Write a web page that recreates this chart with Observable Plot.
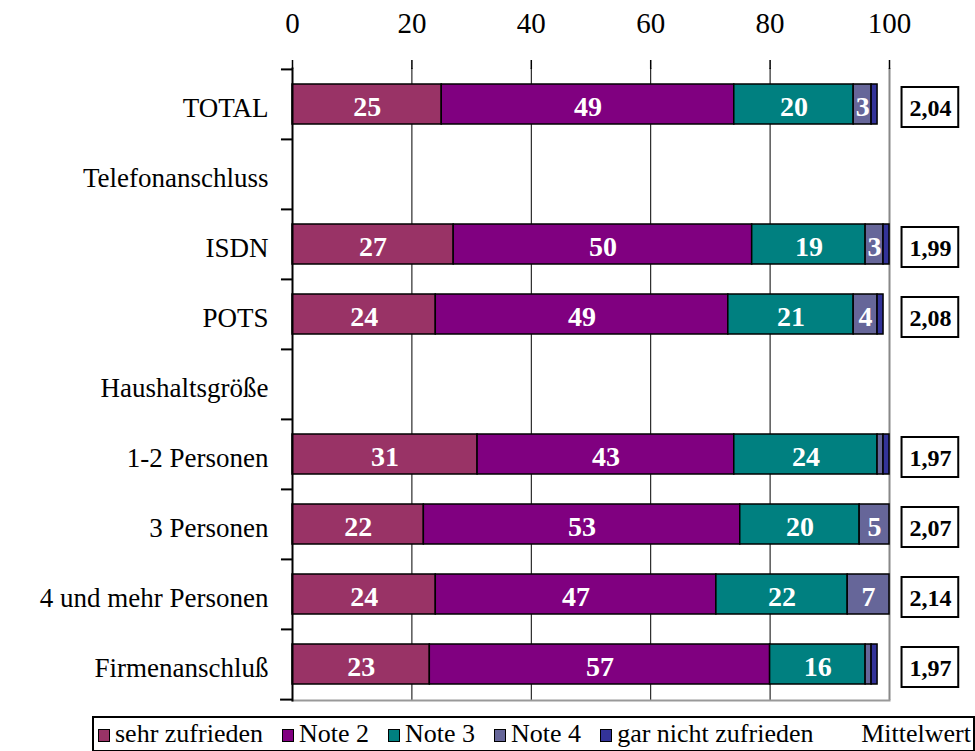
<!DOCTYPE html>
<html>
<head>
<meta charset="utf-8">
<script src="https://cdn.jsdelivr.net/npm/d3@7"></script>
<script src="https://cdn.jsdelivr.net/npm/@observablehq/plot@0.6"></script>
<style>
  body { margin: 0; background: #fff; font-family: "Liberation Serif", "Times New Roman", "DejaVu Serif", serif; }
  svg, svg text { font-family: "Liberation Serif", "Times New Roman", "DejaVu Serif", serif !important; }
  #chart { width: 975px; }
  .legend { position: absolute; left: 92px; top: 716px; width: 879px; height: 32px; border: 2px solid #000;
    display: flex; align-items: center; font-size: 26px; line-height: 28px; color: #000; box-sizing: content-box; overflow: hidden; }
  .legend .item { display: flex; align-items: center; margin-left: 4px; margin-right: 15px; }
  .legend .sw { width: 10px; height: 11px; border: 1.5px solid #000; margin-right: 5px; margin-top: 2px; }
  .legend .mw { margin-left: auto; margin-right: 2px; }
</style>
</head>
<body>
<div id="chart"></div>
<script>
const categories = ["TOTAL", "Telefonanschluss", "ISDN", "POTS", "Haushaltsgröße", "1-2 Personen", "3 Personen", "4 und mehr Personen", "Firmenanschluß"];
const series = ["sehr zufrieden", "Note 2", "Note 3", "Note 4", "gar nicht zufrieden"];
const colors = ["#993366", "#800080", "#008080", "#666699", "#333399"];
const sehrZufrieden = [25, null, 27, 24, null, 31, 22, 24, 23];
const note2 = [49, null, 50, 49, null, 43, 53, 47, 57];
const note3 = [20, null, 19, 21, null, 24, 20, 22, 16];
const note4 = [3, null, 3, 4, null, 1, 5, 7, 1];
const garNicht = [1, null, 1, 1, null, 1, 0, 0, 1];
const mittelwert = ["2,04", null, "1,99", "2,08", null, "1,97", "2,07", "2,14", "1,97"];
const xTicks = [0, 20, 40, 60, 80, 100];

const seriesValues = [sehrZufrieden, note2, note3, note4, garNicht];
const rows = [];
categories.forEach((c, i) => {
  seriesValues.forEach((vals, s) => {
    if (vals[i] != null && vals[i] > 0) rows.push({ cat: c, series: series[s], value: vals[i] });
  });
});
const means = categories.map((c, i) => ({ cat: c, mean: mittelwert[i] })).filter(d => d.mean != null);

const serif = "'Liberation Serif', 'Times New Roman', serif";

const chart = Plot.plot({
  width: 975,
  height: 712,
  marginLeft: 292,
  marginRight: 86,
  marginTop: 68,
  marginBottom: 12,
  style: { fontFamily: serif, background: "#fff", color: "#000" },
  x: { domain: [0, 100], axis: null, label: null },
  y: { domain: categories, paddingInner: 0.43, paddingOuter: 0.215, axis: null, label: null },
  color: { domain: series, range: colors },
  marks: [
    // gridlines
    Plot.ruleX([20, 40, 60, 80], { stroke: "#000", strokeWidth: 1 }),
    // frame (right / bottom in gray)
    Plot.ruleX([100], { stroke: "#888", strokeWidth: 2 }),
    Plot.frame({ anchor: "bottom", stroke: "#999", strokeWidth: 2 }),
    // bars
    Plot.barX(rows, Plot.stackX({
      x: "value", y: "cat", fill: "series", order: series,
      stroke: "#000", strokeWidth: 1.5
    })),
    Plot.text(rows.filter(d => d.value >= 3), Plot.stackX({
      x: "value", y: "cat", z: "series", order: series, text: d => String(d.value),
      fill: "#fff", fontSize: 28, fontWeight: "bold", dy: 3
    })),
    // top axis
    Plot.axisX(xTicks, { anchor: "top", label: null, tickSize: 9, tickPadding: 27, fontSize: 29, stroke: "#000", strokeWidth: 1.5 }),
    Plot.ruleY([0], { frameAnchor: "top", x1: -2.3, x2: 100, stroke: "#000", strokeWidth: 2 }),
    // left axis line
    Plot.frame({ anchor: "left", stroke: "#000", strokeWidth: 2 }),
    // category labels
    Plot.axisY({ anchor: "left", label: null, tickSize: 0, tickPadding: 24, fontSize: 27, textAnchor: "end", dy: 4 }),
    // boundary ticks on left axis
    Plot.ruleY(categories, { y: d => d, x1: -1.85, x2: 0, dy: -35.1, stroke: "#000", strokeWidth: 2 }),
    Plot.ruleY([categories[categories.length - 1]], { y: d => d, x1: -2, x2: 0, dy: 35.1, stroke: "#000", strokeWidth: 2 }),
    // Mittelwert boxes
    Plot.rect(means, { x1: 102.1, x2: 111.6, y: "cat", fill: "#fff", stroke: "#000", strokeWidth: 2, insetTop: 3, insetBottom: -3 }),
    Plot.text(means, { x: 106.85, y: "cat", text: "mean", fontSize: 24, fontWeight: "bold", fill: "#000", dy: 4 })
  ]
});
document.getElementById("chart").append(chart);

const legend = document.createElement("div");
legend.className = "legend";
series.forEach((s, i) => {
  const item = document.createElement("div");
  item.className = "item";
  const sw = document.createElement("span");
  sw.className = "sw";
  sw.style.background = colors[i];
  item.append(sw, document.createTextNode(s));
  legend.append(item);
});
const mw = document.createElement("div");
mw.className = "mw";
mw.textContent = "Mittelwert";
legend.append(mw);
document.body.append(legend);
</script>
</body>
</html>
